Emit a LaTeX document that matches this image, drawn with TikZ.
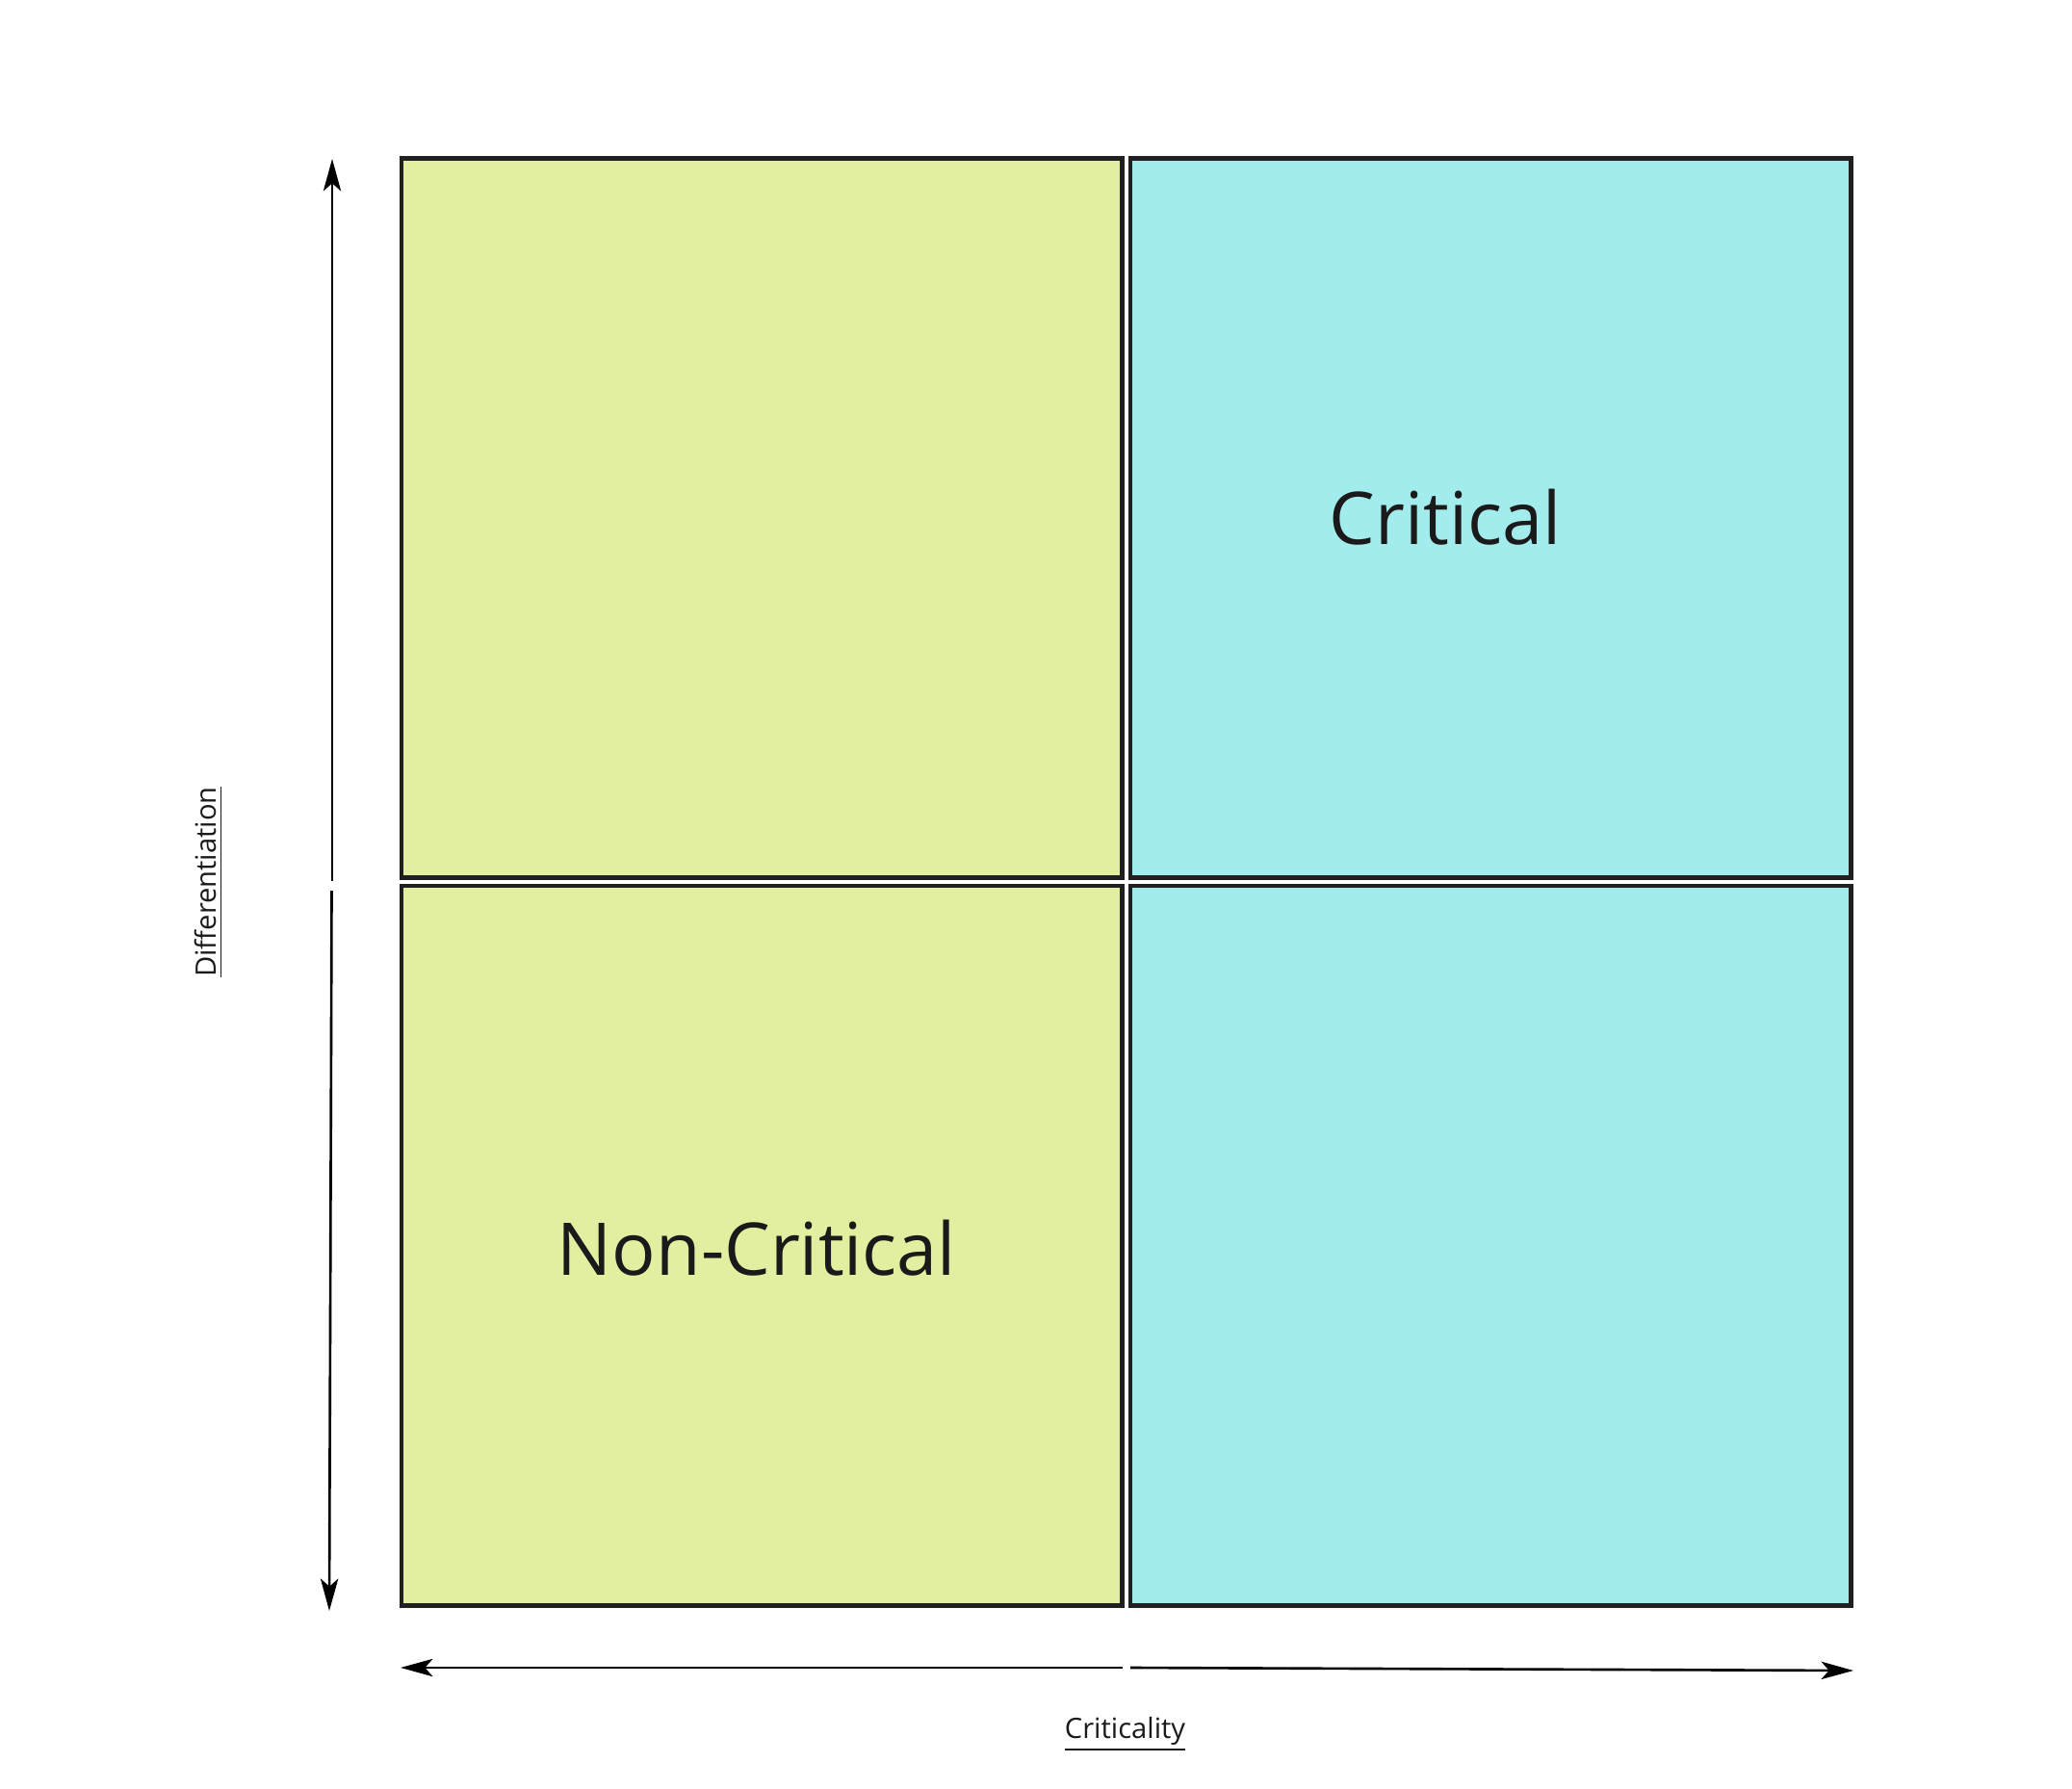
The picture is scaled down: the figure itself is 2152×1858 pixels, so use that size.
\documentclass[tikz,border=0pt]{standalone}
\usepackage{fontspec}
\setmainfont{Open Sans}
\usetikzlibrary{arrows.meta}
\definecolor{lowq}{HTML}{E2EFA0}
\definecolor{highq}{HTML}{A2ECEE}
\definecolor{edgec}{HTML}{202020}
\definecolor{textc}{HTML}{1A1A1A}
\tikzset{
  quadrant/.style={draw=edgec, line width=1.3pt, inner sep=0pt, outer sep=0pt,
    minimum width=7.48cm, minimum height=7.47cm},
  biglabel/.style={text=textc, font=\fontsize{21.5}{26}\selectfont, anchor=base},
  axislabel/.style={text=textc, font=\fontsize{8.3}{10}\selectfont, anchor=base},
  axisarrow/.style={line width=0.75pt, -{Stealth[length=9.5pt,width=5.2pt,inset=2.3pt]}}
}
\begin{document}
\begin{tikzpicture}[x=0.01cm, y=-0.01cm]
    \useasboundingbox (0,0) rectangle (2152,1858);
    % the four boxes
    \node[quadrant, fill=lowq] (tl) at (791,538) {};
    \node[quadrant, fill=highq] (tr) at (1548,538) {};
    \node[quadrant, fill=lowq] (bl) at (791,1293.5) {};
    \node[quadrant, fill=highq] (br) at (1548,1293.5) {};
    \node[biglabel] (crit) at (1501,565) {Critical};
    \node[biglabel] (noncrit) at (786,1324) {Non-Critical};
    % axes
    \coordinate (ytop) at (345,165);
    \coordinate (ymidA) at (345,915);
    \coordinate (ymidB) at (344.5,925);
    \coordinate (ybot) at (342,1673);
    \coordinate (xleft) at (416,1732);
    \coordinate (xmidA) at (1166,1732);
    \coordinate (xmidB) at (1174,1732);
    \coordinate (xright) at (1925,1735);
    \draw[axisarrow] (ymidA) -- (ytop);
    \draw[axisarrow] (ymidB) -- (ybot);
    \draw[axisarrow] (xmidA) -- (xleft);
    \draw[axisarrow] (xmidB) -- (xright);
    \node[axislabel] (xlab) at (1168.5,1805) {\underline{Criticality}};
    \node[axislabel, rotate=90] (ylab) at (224,916) {\underline{Differentiation}};
\end{tikzpicture}
\end{document}
